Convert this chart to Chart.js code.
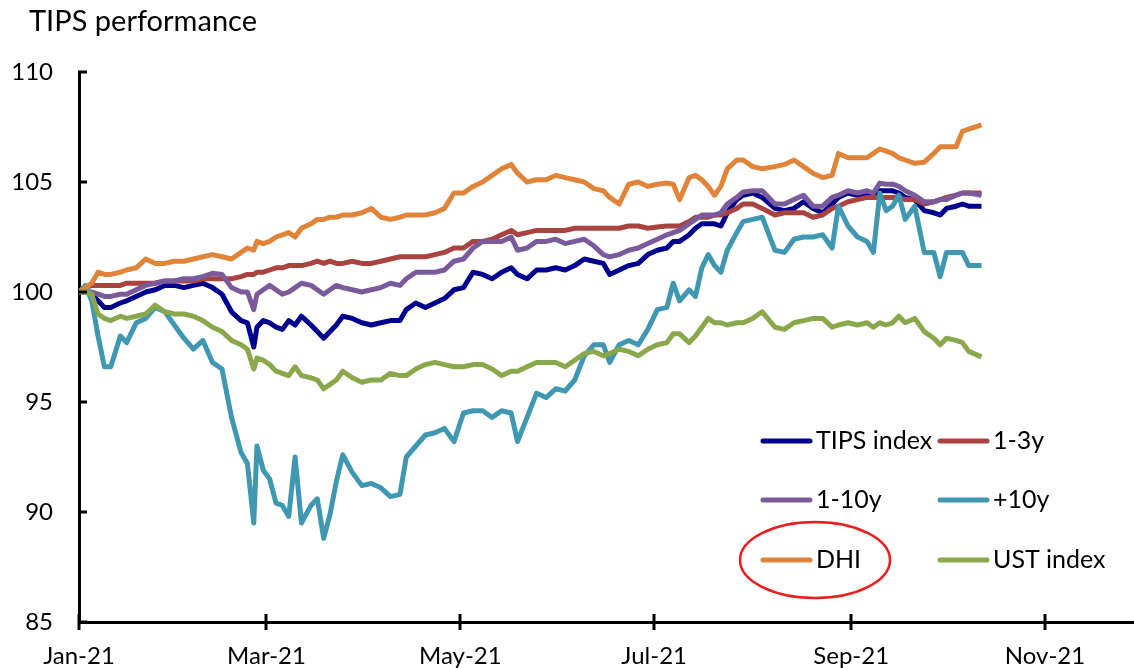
<!DOCTYPE html>
<html>
<head>
<meta charset="utf-8">
<script src="https://cdn.jsdelivr.net/npm/chart.js@4.4.0/dist/chart.umd.min.js"></script>
<style>
  html, body { margin: 0; padding: 0; background: #fff; }
</style>
</head>
<body>
<canvas id="chart" width="1134" height="668"></canvas>
<script>
// days since 1 Jan 2021
const days = [0, 2, 4, 6, 8, 10, 13, 15, 18, 21, 24, 27, 30, 33, 36, 39, 42, 45, 48, 51, 53, 55, 56, 58, 60, 62, 64, 66, 68, 70,
  73, 75, 77, 79, 81, 83, 86, 89, 92, 95, 98, 101, 103, 106, 109, 112, 115, 118, 121, 124, 127, 130, 133, 136, 138, 141, 144, 147, 150, 153,
  156, 159, 162, 165, 167, 170, 173, 176, 179, 182, 185, 187, 189, 192, 194, 196, 198, 200, 202, 204, 207, 209, 212, 215,
  219, 222, 225, 228, 231, 234, 237, 239, 242, 245, 248, 250, 252, 254, 256, 258, 260, 263, 266, 269, 271, 273, 276, 278, 280, 284];

const monthTicks = [0, 59, 120, 181, 243, 304];
const monthLabels = ['Jan-21', 'Mar-21', 'May-21', 'Jul-21', 'Sep-21', 'Nov-21'];
const yTicks = [85, 90, 95, 100, 105, 110];

const seriesNames = ['TIPS index', '1-3y', '1-10y', '+10y', 'DHI', 'UST index'];

const tipsIndex = [100, 100.0, 99.9, 99.6, 99.3, 99.3, 99.5, 99.6, 99.8, 100.0, 100.1, 100.3, 100.3, 100.2, 100.3, 100.4, 100.2, 99.9, 99.1, 98.7, 98.6, 97.5, 98.4, 98.7, 98.6, 98.4, 98.3, 98.7, 98.5, 98.9,
  98.5, 98.2, 97.9, 98.2, 98.5, 98.9, 98.8, 98.6, 98.5, 98.6, 98.7, 98.7, 99.2, 99.5, 99.3, 99.5, 99.7, 100.1, 100.2, 100.9, 100.8, 100.6, 100.9, 101.1, 100.8, 100.6, 101.0, 101.0, 101.1, 101.0,
  101.2, 101.5, 101.4, 101.3, 100.8, 101.0, 101.2, 101.3, 101.7, 101.9, 102.0, 102.3, 102.3, 102.6, 102.9, 103.1, 103.1, 103.1, 103.0, 103.6, 104.2, 104.4, 104.5, 104.3,
  103.8, 103.7, 103.8, 104.1, 103.8, 103.6, 104.0, 104.3, 104.5, 104.4, 104.5, 104.3, 104.6, 104.6, 104.6, 104.5, 104.3, 104.2, 103.7, 103.6, 103.5, 103.8, 103.9, 104.0, 103.9, 103.9];

const y1to3 = [100, 100.2, 100.3, 100.3, 100.3, 100.3, 100.3, 100.4, 100.4, 100.4, 100.4, 100.5, 100.5, 100.5, 100.5, 100.6, 100.6, 100.6, 100.6, 100.7, 100.8, 100.8, 100.9, 100.9, 101.0, 101.1, 101.1, 101.2, 101.2, 101.2,
  101.3, 101.4, 101.3, 101.4, 101.3, 101.3, 101.4, 101.3, 101.3, 101.4, 101.5, 101.6, 101.6, 101.6, 101.6, 101.7, 101.8, 102.0, 102.0, 102.3, 102.3, 102.4, 102.6, 102.8, 102.6, 102.7, 102.8, 102.8, 102.8, 102.8,
  102.9, 102.9, 102.9, 102.9, 102.9, 102.9, 103.0, 103.0, 102.9, 102.95, 103.0, 103.0, 103.0, 103.2, 103.4, 103.4, 103.4, 103.5, 103.5, 103.6, 103.8, 104.0, 104.0, 103.8,
  103.5, 103.6, 103.6, 103.6, 103.4, 103.5, 103.8, 103.9, 104.1, 104.2, 104.3, 104.3, 104.3, 104.3, 104.3, 104.3, 104.2, 104.2, 104.0, 104.1, 104.2, 104.3, 104.4, 104.5, 104.5, 104.5];

const y1to10 = [100, 100.0, 100.0, 99.9, 99.8, 99.8, 99.9, 99.9, 100.1, 100.3, 100.4, 100.5, 100.5, 100.6, 100.6, 100.7, 100.85, 100.8, 100.2, 100.0, 100.0, 99.2, 99.9, 100.1, 100.3, 100.1, 99.9, 100.0, 100.2, 100.4,
  100.3, 100.1, 99.9, 100.1, 100.3, 100.2, 100.1, 100.0, 100.1, 100.2, 100.4, 100.3, 100.6, 100.9, 100.9, 100.9, 101.0, 101.4, 101.5, 102.0, 102.3, 102.3, 102.3, 102.5, 101.9, 102.0, 102.3, 102.3, 102.4, 102.2,
  102.3, 102.4, 102.1, 101.7, 101.6, 101.7, 101.9, 102.0, 102.2, 102.4, 102.6, 102.7, 102.8, 103.1, 103.3, 103.5, 103.5, 103.5, 103.6, 104.0, 104.3, 104.55, 104.6, 104.6,
  104.0, 104.0, 104.2, 104.4, 103.9, 103.9, 104.3, 104.4, 104.6, 104.5, 104.6, 104.5, 104.95, 104.9, 104.9, 104.8, 104.6, 104.4, 104.1, 104.1, 104.2, 104.2, 104.4, 104.5, 104.5, 104.4];

const y10plus = [100, 100.3, 99.6, 98.0, 96.6, 96.6, 98.0, 97.7, 98.6, 98.8, 99.3, 99.1, 98.5, 97.9, 97.4, 97.8, 96.8, 96.5, 94.3, 92.7, 92.2, 89.5, 93.0, 91.9, 91.5, 90.4, 90.3, 89.8, 92.5, 89.5,
  90.3, 90.6, 88.8, 89.9, 91.4, 92.6, 91.8, 91.2, 91.3, 91.1, 90.7, 90.8, 92.5, 93.0, 93.5, 93.6, 93.8, 93.2, 94.5, 94.6, 94.6, 94.3, 94.6, 94.5, 93.2, 94.3, 95.4, 95.2, 95.6, 95.5,
  96.0, 97.1, 97.6, 97.6, 96.8, 97.6, 97.8, 97.6, 98.3, 99.2, 99.3, 100.4, 99.6, 100.1, 99.8, 101.1, 101.7, 101.2, 100.9, 101.9, 102.7, 103.2, 103.3, 103.4,
  101.9, 101.8, 102.4, 102.5, 102.5, 102.6, 102.0, 103.9, 103.0, 102.5, 102.3, 101.8, 104.5, 103.7, 103.9, 104.4, 103.3, 103.9, 101.8, 101.8, 100.7, 101.8, 101.8, 101.8, 101.2, 101.2];

const dhi = [100, 100.2, 100.4, 100.9, 100.8, 100.8, 100.9, 101.0, 101.1, 101.5, 101.3, 101.3, 101.4, 101.4, 101.5, 101.6, 101.7, 101.6, 101.5, 101.8, 102.0, 101.9, 102.3, 102.2, 102.3, 102.5, 102.6, 102.7, 102.5, 102.9,
  103.1, 103.3, 103.3, 103.4, 103.4, 103.5, 103.5, 103.6, 103.8, 103.4, 103.3, 103.4, 103.5, 103.5, 103.5, 103.6, 103.8, 104.5, 104.5, 104.8, 105.0, 105.3, 105.6, 105.8, 105.4, 105.0, 105.1, 105.1, 105.3, 105.2,
  105.1, 105.0, 104.7, 104.6, 104.3, 104.0, 104.9, 105.0, 104.8, 104.9, 104.95, 104.9, 104.2, 105.2, 105.3, 105.1, 104.8, 104.4, 104.8, 105.6, 106.0, 106.0, 105.7, 105.6,
  105.7, 105.8, 106.0, 105.7, 105.4, 105.2, 105.3, 106.3, 106.1, 106.1, 106.1, 106.3, 106.5, 106.4, 106.3, 106.1, 106.0, 105.85, 105.9, 106.3, 106.6, 106.6, 106.6, 107.3, 107.4, 107.6];

const ustIndex = [100, 100.0, 99.9, 99.0, 98.8, 98.7, 98.9, 98.8, 98.9, 99.0, 99.4, 99.1, 99.0, 99.0, 98.9, 98.7, 98.4, 98.2, 97.8, 97.6, 97.4, 96.5, 97.0, 96.9, 96.7, 96.4, 96.3, 96.2, 96.6, 96.2,
  96.1, 96.0, 95.6, 95.8, 96.0, 96.4, 96.1, 95.9, 96.0, 96.0, 96.3, 96.2, 96.2, 96.5, 96.7, 96.8, 96.7, 96.6, 96.6, 96.7, 96.7, 96.5, 96.2, 96.4, 96.4, 96.6, 96.8, 96.8, 96.8, 96.6,
  96.9, 97.2, 97.3, 97.1, 97.2, 97.4, 97.3, 97.1, 97.4, 97.6, 97.7, 98.1, 98.1, 97.7, 98.0, 98.4, 98.8, 98.6, 98.6, 98.5, 98.6, 98.6, 98.8, 99.1,
  98.4, 98.3, 98.6, 98.7, 98.8, 98.8, 98.4, 98.5, 98.6, 98.5, 98.6, 98.4, 98.6, 98.5, 98.6, 98.9, 98.6, 98.8, 98.2, 97.9, 97.6, 97.9, 97.8, 97.7, 97.3, 97.05];

const seriesValues = [tipsIndex, y1to3, y1to10, y10plus, dhi, ustIndex];
const colors = ['#00008f', '#a9433f', '#7a5a9b', '#4097b1', '#e0843a', '#8aa84b'];

Chart.defaults.font.family = 'Lato';
Chart.defaults.color = '#000';

// cross ticks on x, inner ticks on y
const tickMarks = {
  id: 'tickMarks',
  afterDraw(chart) {
    const ctx = chart.ctx;
    const xs = chart.scales.x, ys = chart.scales.y;
    const area = chart.chartArea;
    ctx.save();
    ctx.strokeStyle = '#000';
    ctx.lineWidth = 3;
    xs.ticks.forEach(t => {
      const px = Math.round(xs.getPixelForValue(t.value));
      ctx.beginPath();
      ctx.moveTo(px, area.bottom - 8);
      ctx.lineTo(px, area.bottom + 8);
      ctx.stroke();
    });
    ys.ticks.forEach(t => {
      const py = Math.round(ys.getPixelForValue(t.value));
      ctx.beginPath();
      ctx.moveTo(area.left - 1, py);
      ctx.lineTo(area.left + 8, py);
      ctx.stroke();
    });
    ctx.restore();
  }
};

// two-column legend inside the plot, plus the red circle round DHI
const boxLegend = {
  id: 'boxLegend',
  afterDraw(chart) {
    const ctx = chart.ctx;
    const cols = [763, 940];
    const rows = [441, 500, 560];
    ctx.save();
    ctx.font = '25px Lato';
    ctx.textBaseline = 'middle';
    ctx.lineCap = 'round';
    chart.data.datasets.forEach((ds, i) => {
      const x = cols[i % 2], y = rows[Math.floor(i / 2)];
      ctx.strokeStyle = ds.borderColor;
      ctx.lineWidth = 5;
      ctx.beginPath();
      ctx.moveTo(x, y);
      ctx.lineTo(x + 47, y);
      ctx.stroke();
      ctx.fillStyle = '#000';
      ctx.fillText(ds.label, x + 53, y);
    });
    ctx.strokeStyle = '#ee1c1c';
    ctx.lineWidth = 2.5;
    ctx.beginPath();
    ctx.ellipse(815, 560, 75, 38, 0, 0, Math.PI * 2);
    ctx.stroke();

    ctx.font = '29px Lato';
    ctx.textBaseline = 'alphabetic';
    ctx.fillStyle = '#000';
    ctx.fillText('TIPS performance', 29, 31);
    ctx.restore();
  }
};

new Chart(document.getElementById('chart'), {
  type: 'line',
  data: {
    datasets: seriesNames.map((name, i) => ({
      label: name,
      data: days.map((d, k) => ({ x: d, y: seriesValues[i][k] })),
      borderColor: colors[i],
      borderWidth: 5,
      pointRadius: 0,
      tension: 0,
      fill: false,
      borderJoinStyle: 'round',
      order: seriesNames.length - i
    }))
  },
  options: {
    responsive: false,
    animation: false,
    devicePixelRatio: 1,
    layout: { padding: { top: 72, right: 0, bottom: 0, left: 0 } },
    plugins: {
      legend: { display: false },
      tooltip: { enabled: false },
      title: { display: false }
    },
    scales: {
      x: {
        type: 'linear',
        min: 0,
        max: 332,
        afterBuildTicks: s => { s.ticks = monthTicks.map(v => ({ value: v })); },
        afterFit: s => { s.height = 46; },
        ticks: {
          callback: v => monthLabels[monthTicks.indexOf(v)],
          font: { size: 24 },
          padding: 20,
          maxRotation: 0
        },
        grid: { display: false, drawTicks: false },
        border: { display: true, color: '#000', width: 3 }
      },
      y: {
        min: 85,
        max: 110,
        afterBuildTicks: s => { s.ticks = yTicks.map(v => ({ value: v })); },
        afterFit: s => { s.width = 79; },
        ticks: {
          font: { size: 24 },
          padding: 26
        },
        grid: { display: false, drawTicks: false },
        border: { display: true, color: '#000', width: 3 }
      }
    }
  },
  plugins: [tickMarks, boxLegend]
});
</script>
</body>
</html>
